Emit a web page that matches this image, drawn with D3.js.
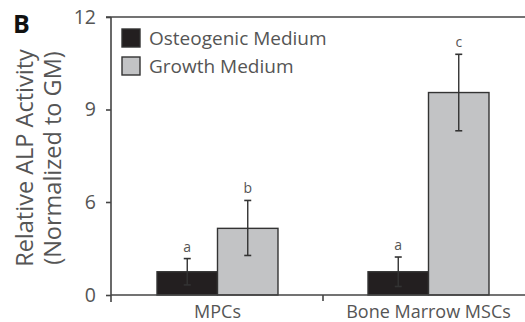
<!DOCTYPE html>
<html>
<head>
<meta charset="utf-8">
<script src="https://cdn.jsdelivr.net/npm/d3@7"></script>
<style>
  html, body { margin: 0; padding: 0; background: #fff; }
  svg { display: block; font-family: "Open Sans", "Noto Sans", sans-serif; }
</style>
</head>
<body>
<svg id="chart" width="525" height="322"></svg>
<script>
// Relative ALP activity, normalized to growth medium
const categories = ["MPCs", "Bone Marrow MSCs"];
const seriesNames = ["Osteogenic Medium", "Growth Medium"];
const osteogenicValues = [1.5, 1.5];
const growthValues = [4.3, 9.55];
const osteogenicErrors = [0.85, 0.95];
const growthErrors = [1.75, 1.24];
const osteogenicLetters = ["a", "a"];
const growthLetters = ["b", "c"];
const yTickValues = [0, 6, 9, 12];

const W = 525, H = 322;
const margin = { left: 111, right: 0, top: 17, bottom: 27 };
const textColor = "#555";
const lineColor = "#444";
const fills = ["#231f20", "#c2c3c5"];

const svg = d3.select("#chart");

// rows: one per category, with both media
const rows = categories.map((c, i) => ({
  category: c,
  bars: [
    { series: seriesNames[0], value: osteogenicValues[i], err: osteogenicErrors[i], letter: osteogenicLetters[i] },
    { series: seriesNames[1], value: growthValues[i], err: growthErrors[i], letter: growthLetters[i] }
  ]
}));

// value axis with labelled breakpoints 0, 6, 12
const y = d3.scaleLinear()
  .domain([0, 6, 12])
  .range([H - margin.bottom, 202, margin.top]);

const x0 = d3.scaleBand()
  .domain(categories)
  .range([margin.left + 1, margin.left + 1 + 422])
  .padding(0);

const x1 = d3.scaleBand()
  .domain(seriesNames)
  .range([0, x0.bandwidth()])
  .paddingInner(0)
  .paddingOuter(0.744);

const baseY = y(0);

// frame: top rule runs to the right edge
svg.append("line")
  .attr("x1", margin.left - 5).attr("x2", W)
  .attr("y1", margin.top).attr("y2", margin.top)
  .attr("stroke", lineColor).attr("stroke-width", 1.6);

// bars
const groups = svg.append("g").selectAll("g")
  .data(rows).join("g")
  .attr("transform", d => `translate(${x0(d.category)},0)`);

groups.selectAll("rect")
  .data(d => d.bars).join("rect")
  .attr("x", d => x1(d.series))
  .attr("width", x1.bandwidth())
  .attr("y", d => y(d.value))
  .attr("height", d => baseY - y(d.value))
  .attr("fill", (d, i) => fills[i])
  .attr("stroke", "#333")
  .attr("stroke-width", 1.4);

// error bars
const eb = groups.selectAll("g.err")
  .data(d => d.bars).join("g")
  .attr("class", "err")
  .attr("transform", d => `translate(${x1(d.series) + x1.bandwidth() / 2},0)`);

eb.append("line")
  .attr("y1", d => y(d.value + d.err)).attr("y2", d => y(d.value - d.err))
  .attr("stroke", "#333").attr("stroke-width", 1.4);
eb.append("line")
  .attr("x1", -3.5).attr("x2", 3.5)
  .attr("y1", d => y(d.value + d.err)).attr("y2", d => y(d.value + d.err))
  .attr("stroke", "#333").attr("stroke-width", 1.6);
eb.append("line")
  .attr("x1", -3.5).attr("x2", 3.5)
  .attr("y1", d => y(d.value - d.err)).attr("y2", d => y(d.value - d.err))
  .attr("stroke", "#333").attr("stroke-width", 1.6);

// significance letters
eb.append("text")
  .attr("y", d => y(d.value + d.err) - 7)
  .attr("text-anchor", "middle")
  .attr("font-size", 14)
  .attr("fill", textColor)
  .text(d => d.letter);

// y axis
const yAxis = svg.append("g")
  .attr("transform", `translate(${margin.left},0)`)
  .call(d3.axisLeft(y).tickValues(yTickValues).tickSize(5).tickFormat(d3.format("d")));
yAxis.select(".domain").attr("stroke", lineColor).attr("stroke-width", 1.6)
  .attr("d", `M0,${margin.top}V${baseY + 7}`);
yAxis.selectAll(".tick line").attr("stroke", lineColor).attr("stroke-width", 1.6);
yAxis.selectAll(".tick text")
  .attr("font-size", 19.5).attr("font-family", "Open Sans, sans-serif")
  .attr("fill", textColor).attr("x", -15);

// x axis: baseline with a divider tick between categories
const xAxis = svg.append("g")
  .attr("transform", `translate(0,${baseY})`);
xAxis.append("line")
  .attr("x1", margin.left).attr("x2", W)
  .attr("stroke", lineColor).attr("stroke-width", 1.6);
xAxis.selectAll("line.div")
  .data(categories.slice(1)).join("line")
  .attr("class", "div")
  .attr("x1", d => x0(d)).attr("x2", d => x0(d))
  .attr("y1", 0).attr("y2", 6)
  .attr("stroke", lineColor).attr("stroke-width", 1.6);
xAxis.selectAll("text")
  .data(categories).join("text")
  .attr("x", d => x0(d) + x0.bandwidth() / 2)
  .attr("y", 23)
  .attr("text-anchor", "middle")
  .attr("font-size", 18)
  .attr("fill", textColor)
  .text(d => d);

// y title
const title = svg.append("text")
  .attr("transform", "translate(0,158) rotate(-90)")
  .attr("text-anchor", "middle")
  .attr("font-size", 23.5)
  .attr("fill", textColor);
title.append("tspan").attr("x", 0).attr("y", 33).text("Relative ALP Activity");
title.append("tspan").attr("x", 0).attr("y", 61).text("(Normalized to GM)");

// panel letter
svg.append("text")
  .attr("x", 13).attr("y", 33)
  .attr("font-size", 25).attr("font-weight", "bold")
  .attr("fill", "#111")
  .text("B");

// legend
const legend = svg.append("g").attr("transform", "translate(122,29)");
const li = legend.selectAll("g").data(seriesNames).join("g")
  .attr("transform", (d, i) => `translate(0,${i * 28})`);
li.append("rect")
  .attr("width", 18).attr("height", 18)
  .attr("fill", (d, i) => fills[i])
  .attr("stroke", "#333").attr("stroke-width", 1.4);
li.append("text")
  .attr("x", 27).attr("y", 16)
  .attr("font-size", 19)
  .attr("fill", textColor)
  .text(d => d);
</script>
</body>
</html>
